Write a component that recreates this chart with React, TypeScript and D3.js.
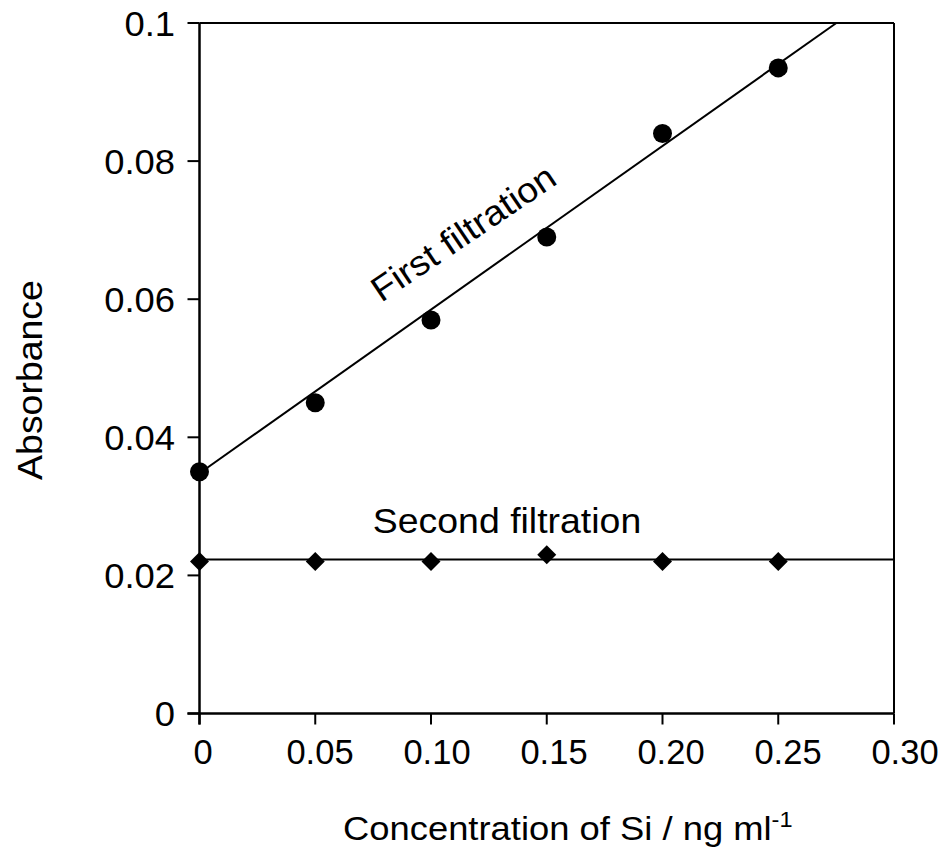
import React from "react";
import * as d3 from "d3";

const concentrations = [0, 0.05, 0.1, 0.15, 0.2, 0.25];
const firstFiltration = [0.035, 0.045, 0.057, 0.069, 0.084, 0.0935];
const secondFiltration = [0.022, 0.022, 0.022, 0.023, 0.022, 0.022];
const xTicks = [0, 0.05, 0.1, 0.15, 0.2, 0.25, 0.3];
const xTickLabels = ["0", "0.05", "0.10", "0.15", "0.20", "0.25", "0.30"];
const yTicks = [0, 0.02, 0.04, 0.06, 0.08, 0.1];
const yTickLabels = ["0", "0.02", "0.04", "0.06", "0.08", "0.1"];
// fitted lines: [intercept, slope]
const firstFit = [0.0348, 0.237];
const secondFit = [0.0223, 0];

const W = 946;
const H = 858;
const FONT = "'Liberation Sans', Arial, Helvetica, sans-serif";
const SX = 1.07;

function T(props: {
  x: number;
  y: number;
  rotate?: number;
  size: number;
  anchor?: string;
  sx?: number;
  children: React.ReactNode;
}) {
  const { x, y, rotate = 0, size, anchor = "start", sx = SX, children } = props;
  return (
    <text
      transform={`translate(${x},${y}) rotate(${rotate}) scale(${sx},1)`}
      textAnchor={anchor}
      fontSize={size}
      fill="#000"
    >
      {children}
    </text>
  );
}

export default function App() {
  const x = d3.scaleLinear().domain([0, 0.3]).range([199.5, 894]);
  const xLabel = d3.scaleLinear().domain([0, 0.3]).range([203, 905]);
  const y = d3.scaleLinear().domain([0, 0.1]).range([713.5, 23]);

  const line = d3
    .line<[number, number]>()
    .x((d) => x(d[0]))
    .y((d) => y(d[1]));

  const firstEndX = (0.1 - firstFit[0]) / firstFit[1];
  const firstLine: [number, number][] = [
    [0, firstFit[0]],
    [firstEndX, firstFit[0] + firstFit[1] * firstEndX],
  ];
  const secondLine: [number, number][] = [
    [0, secondFit[0]],
    [0.3, secondFit[0] + secondFit[1] * 0.3],
  ];

  const dw = 9.5;
  const dh = 9.5;
  const diamond = `M0,${-dh}L${dw},0L0,${dh}L${-dw},0Z`;

  return (
    <svg
      width={W}
      height={H}
      style={{ position: "absolute", left: 0, top: 0, background: "#fff" }}
      fontFamily={FONT}
    >
      <rect x={0} y={0} width={W} height={H} fill="#fff" />
      {/* frame top/right */}
      <line x1={x(0)} x2={x(0.3)} y1={y(0.1)} y2={y(0.1)} stroke="#000" strokeWidth={2} />
      <line x1={x(0.3)} x2={x(0.3)} y1={y(0.1)} y2={y(0)} stroke="#000" strokeWidth={2} />
      {/* axes */}
      <line x1={x(0)} x2={x(0)} y1={y(0.1)} y2={y(0) + 11} stroke="#000" strokeWidth={2.5} />
      <line x1={x(0) - 12} x2={x(0.3)} y1={y(0)} y2={y(0)} stroke="#000" strokeWidth={2.5} />
      {yTicks.map((t, i) => (
        <g key={"y" + i}>
          <line x1={x(0) - 12} x2={x(0)} y1={y(t)} y2={y(t)} stroke="#000" strokeWidth={2} />
          <T x={175} y={y(t) + 12.5} size={35} anchor="end" sx={1.04}>
            {yTickLabels[i]}
          </T>
        </g>
      ))}
      {xTicks.map((t, i) => (
        <g key={"x" + i}>
          <line x1={x(t)} x2={x(t)} y1={y(0)} y2={y(0) + 11} stroke="#000" strokeWidth={2} />
          <T x={xLabel(t)} y={764} size={34.5} anchor="middle" sx={1.0}>
            {xTickLabels[i]}
          </T>
        </g>
      ))}
      {/* fit lines */}
      <path d={line(firstLine) || ""} fill="none" stroke="#000" strokeWidth={2} />
      <path d={line(secondLine) || ""} fill="none" stroke="#000" strokeWidth={2} />
      {/* markers */}
      {concentrations.map((c, i) => (
        <circle key={"c" + i} cx={x(c)} cy={y(firstFiltration[i])} r={9.5} fill="#000" />
      ))}
      {concentrations.map((c, i) => (
        <path
          key={"d" + i}
          d={diamond}
          transform={`translate(${x(c)},${y(secondFiltration[i])})`}
          fill="#000"
        />
      ))}
      {/* annotations */}
      <T x={470} y={243} rotate={-34} size={35} anchor="middle">
        First filtration
      </T>
      <T x={507} y={533} size={35} anchor="middle">
        Second filtration
      </T>
      {/* axis titles */}
      <T x={42} y={380} rotate={-90} size={35} anchor="middle">
        Absorbance
      </T>
      <T x={343} y={840} size={34}>
        Concentration of Si / ng ml
        <tspan fontSize={22} dy={-13}>
          -1
        </tspan>
      </T>
    </svg>
  );
}
